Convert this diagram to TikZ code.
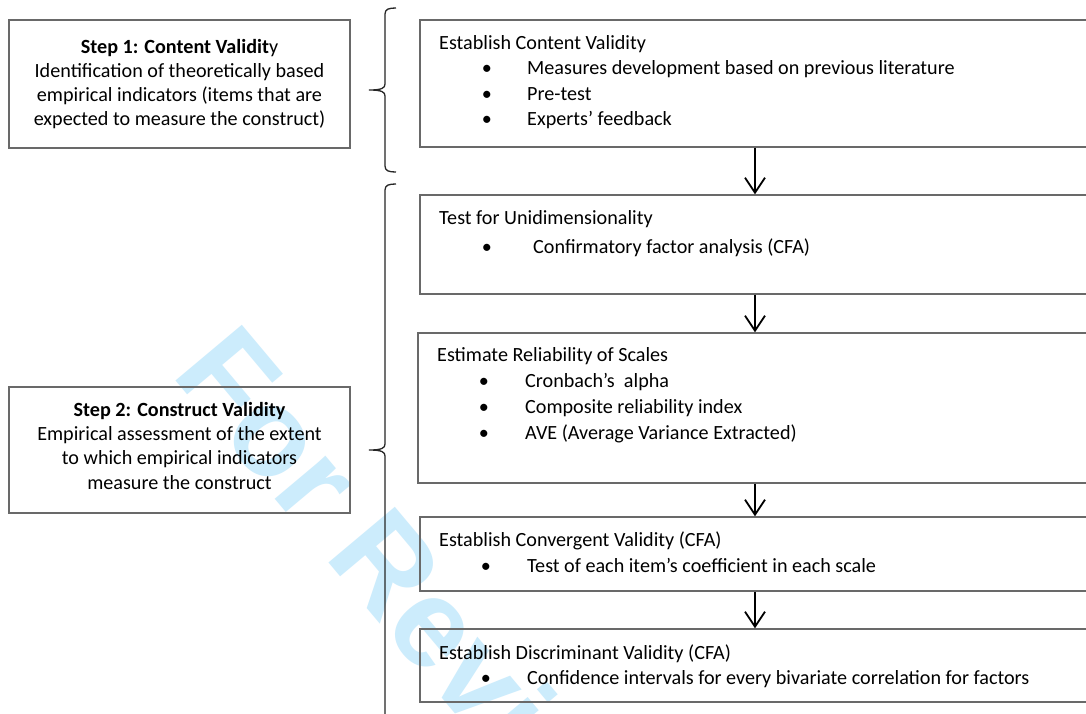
\documentclass[tikz,border=0pt]{standalone}
\usepackage{fontspec}
\setmainfont{Carlito}
\newfontfamily\wmfont{Liberation Sans}
\usetikzlibrary{arrows.meta,calc}
\definecolor{wm}{RGB}{204,236,252}
\definecolor{bordergray}{RGB}{105,105,105}
\begin{document}
\begin{tikzpicture}[x=1pt,y=-1pt,
  lbox/.style={draw=bordergray,line width=1.4pt,minimum width=341pt,inner sep=0pt},
  rbox/.style={draw=bordergray,line width=1.4pt,minimum width=670pt,inner sep=0pt},
  txt/.style={anchor=base west,inner sep=0pt,font=\fontsize{20.15}{25}\selectfont},
  ctxt/.style={anchor=base,inner sep=0pt,font=\fontsize{20.15}{25}\selectfont},
  bul/.style={anchor=base,inner sep=0pt,font=\fontsize{20.15}{25}\selectfont},
  arr/.style={line width=1.8pt,-{Straight Barb[length=15pt,width=20pt,line width=1.8pt]}},
  brace/.style={line width=1.3pt,black!85}]
\useasboundingbox (0,0) rectangle (1086,713);
\fill[white] (0,0) rectangle (1086,713);
\clip (0,0) rectangle (1086,713);
% watermark
\node[anchor=base west,inner sep=0pt,rotate=-50,text=wm,font=\wmfont\bfseries\fontsize{126}{126}\selectfont] (wmark) at (170,374) {For Review};
% left boxes
\node[lbox,minimum height=128pt] (L1) at (179.5,84) {};
\node[ctxt] (L1a) at (179.5,53.5) {\textbf{Step 1: Content Validit}y};
\node[ctxt] (L1b) at (179.5,77.5) {Identification of theoretically based};
\node[ctxt] (L1c) at (179.5,101) {empirical indicators (items that are};
\node[ctxt] (L1d) at (179.5,125) {expected to measure the construct)};
\node[lbox,minimum height=126pt] (L2) at (179.5,450) {};
\node[ctxt] (L2a) at (179.5,416) {\textbf{Step 2: Construct Validity}};
\node[ctxt] (L2b) at (179.5,440.5) {Empirical assessment of the extent};
\node[ctxt] (L2c) at (179.5,464.5) {to which empirical indicators};
\node[ctxt] (L2d) at (179.5,489) {measure the construct};
% braces
\draw[brace] (396,8) .. controls (389,8) and (385,9) .. (385,14) -- (385,84)
  .. controls (385,88) and (382,90) .. (369,90)
  .. controls (382,90) and (385,92) .. (385,96) -- (385,166)
  .. controls (385,171) and (389,172) .. (396,172);
\draw[brace] (396,184) .. controls (389,184) and (385,185) .. (385,190) -- (385,444)
  .. controls (385,448) and (382,450) .. (369,450)
  .. controls (382,450) and (385,452) .. (385,456) -- (385,720);
% right boxes
\node[rbox,minimum height=127pt] (B1) at (755,83.5) {};
\node[txt] (B1t) at (439,49.5) {Establish Content Validity};
\node[bul] (B1b1) at (487,74.5) {•};
\node[txt] (B1i1) at (527,74.5) {Measures development based on previous literature};
\node[bul] (B1b2) at (487,100.5) {•};
\node[txt] (B1i2) at (527,100.5) {Pre-test};
\node[bul] (B1b3) at (487,125.5) {•};
\node[txt] (B1i3) at (527,125.5) {Experts’ feedback};

\node[rbox,minimum height=99pt] (B2) at (755,244.5) {};
\node[txt] (B2t) at (439,224.5) {Test for Unidimensionality};
\node[bul] (B2b1) at (487,253.5) {•};
\node[txt] (B2i1) at (533,253.5) {Confirmatory factor analysis (CFA)};

\node[rbox,minimum height=150pt,minimum width=674pt] (B3) at (755,408) {};
\node[txt] (B3t) at (437,361.5) {Estimate Reliability of Scales};
\node[bul] (B3b1) at (484,387.5) {•};
\node[txt] (B3i1) at (525,387.5) {Cronbach’s\ \ alpha};
\node[bul] (B3b2) at (484,413.5) {•};
\node[txt] (B3i2) at (525,413.5) {Composite reliability index};
\node[bul] (B3b3) at (484,439.5) {•};
\node[txt] (B3i3) at (525,439.5) {AVE (Average Variance Extracted)};

\node[rbox,minimum height=74pt] (B4) at (755,554) {};
\node[txt] (B4t) at (439,546.5) {Establish Convergent Validity (CFA)};
\node[bul] (B4b1) at (486,572.5) {•};
\node[txt] (B4i1) at (527,572.5) {Test of each item’s coefficient in each scale};

\node[rbox,minimum height=73pt] (B5) at (755,665.5) {};
\node[txt] (B5t) at (439,659.5) {Establish Discriminant Validity (CFA)};
\node[bul] (B5b1) at (486,684.5) {•};
\node[txt] (B5i1) at (527,684.5) {Confidence intervals for every bivariate correlation for factors};
% arrows
\draw[arr] (B1.south) -- (B2.north);
\draw[arr] (B2.south) -- (B3.north);
\draw[arr] (B3.south) -- (B4.north);
\draw[arr] (B4.south) -- (B5.north);
\end{tikzpicture}
\end{document}
